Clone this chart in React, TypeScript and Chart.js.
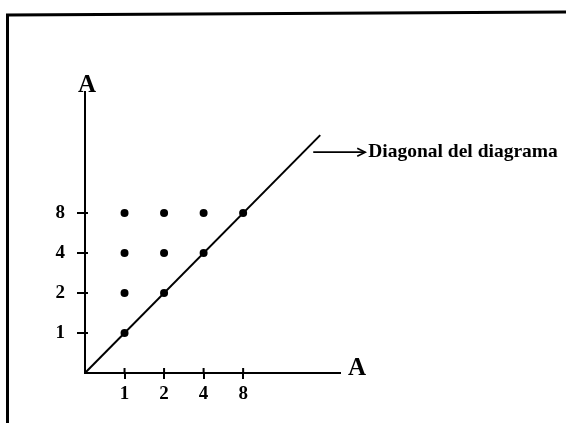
import React, { useEffect, useRef } from "react";
import { Chart, registerables } from "chart.js";

Chart.register(...registerables);

// Doubling steps marked on both axes
const axisValues = [1, 2, 4, 8];
const axisName = "A";
// Plotted pairs: each column value (x) with every row value (y) at or above it
const pointX = [1, 1, 1, 1, 2, 2, 2, 4, 4, 8];
const pointY = [1, 2, 4, 8, 2, 4, 8, 4, 8, 8];
// Diagonal runs from the origin up to this many steps
const diagonalEnd = 5.95;
const diagonalLabel = "Diagonal del diagrama";

const SERIF = "'Liberation Serif', 'DejaVu Serif', serif";
const step = (v: number) => axisValues.indexOf(v) + 1;

const decorPlugin = {
  id: "decor",
  afterDraw(chart: any) {
    const { ctx, chartArea, scales } = chart;
    const xs = scales.x;
    const ys = scales.y;
    ctx.save();
    ctx.strokeStyle = "#000";
    ctx.fillStyle = "#000";

    // page frame (top and left edges)
    ctx.lineWidth = 3;
    ctx.beginPath();
    ctx.moveTo(7.5, 423);
    ctx.lineTo(7.5, 15);
    ctx.lineTo(566, 12);
    ctx.stroke();

    // short inner halves of the tick marks
    ctx.lineWidth = 2;
    ctx.beginPath();
    axisValues.forEach((v) => {
      const px = xs.getPixelForValue(step(v));
      ctx.moveTo(px, chartArea.bottom);
      ctx.lineTo(px, chartArea.bottom - 5);
      const py = ys.getPixelForValue(step(v));
      ctx.moveTo(chartArea.left, py);
      ctx.lineTo(chartArea.left + 3, py);
    });
    ctx.stroke();

    // axis names
    ctx.font = `bold 25px ${SERIF}`;
    ctx.textBaseline = "alphabetic";
    ctx.textAlign = "center";
    ctx.fillText(axisName, chartArea.left + 2, chartArea.top);
    ctx.textAlign = "left";
    ctx.fillText(axisName, chartArea.right + 8, chartArea.bottom + 2);

    // pointer to the diagonal
    const ay = ys.getPixelForValue(diagonalEnd) + 17;
    const ax0 = xs.getPixelForValue(diagonalEnd) - 7;
    const ax1 = ax0 + 52;
    ctx.lineWidth = 1.6;
    ctx.beginPath();
    ctx.moveTo(ax0, ay);
    ctx.lineTo(ax1, ay);
    ctx.stroke();
    ctx.beginPath();
    ctx.moveTo(ax1 - 8, ay - 4);
    ctx.lineTo(ax1, ay);
    ctx.lineTo(ax1 - 8, ay + 4);
    ctx.stroke();

    ctx.font = `bold 19.5px ${SERIF}`;
    ctx.textBaseline = "middle";
    ctx.textAlign = "left";
    ctx.fillText(diagonalLabel, ax1 + 3, ay);
    ctx.restore();
  },
};

export default function App() {
  const canvasRef = useRef<HTMLCanvasElement | null>(null);

  useEffect(() => {
    document.body.style.margin = "0";
    const canvas = canvasRef.current;
    if (!canvas) return;

    const axisScale = (max: number, isY: boolean) => ({
      type: "linear" as const,
      min: 0,
      max,
      afterBuildTicks: (s: any) => {
        s.ticks = axisValues.map((v) => ({ value: step(v) }));
      },
      afterFit: (s: any) => {
        if (isY) s.width = 77;
        else s.height = 30;
      },
      ticks: {
        color: "#000",
        padding: isY ? 12 : 4,
        font: { family: SERIF, size: 19, weight: "bold" as const },
        callback: (_v: any, i: number) => String(axisValues[i]),
      },
      grid: {
        display: true,
        drawOnChartArea: false,
        drawTicks: true,
        tickLength: isY ? 8 : 6,
        color: "#000",
        lineWidth: 2,
      },
      border: { display: true, color: "#000", width: 2 },
    });

    const chart = new Chart(canvas, {
      type: "scatter",
      data: {
        datasets: [
          {
            type: "line",
            data: [
              { x: 0, y: 0 },
              { x: diagonalEnd, y: diagonalEnd },
            ],
            borderColor: "#000",
            borderWidth: 2,
            pointRadius: 0,
            fill: false,
          },
          {
            data: pointX.map((x, i) => ({ x: step(x), y: step(pointY[i]) })),
            backgroundColor: "#000",
            borderColor: "#000",
            borderWidth: 0,
            pointRadius: 4,
          },
        ],
      },
      options: {
        animation: false,
        responsive: false,
        layout: { padding: { left: 8, right: 226, top: 92, bottom: 20 } },
        plugins: {
          legend: { display: false },
          tooltip: { enabled: false },
        },
        scales: {
          x: axisScale(6.45, false),
          y: axisScale(7.03, true),
        },
      },
      plugins: [decorPlugin],
    });

    return () => chart.destroy();
  }, []);

  return (
    <div style={{ position: "fixed", left: 0, top: 0, width: 566, height: 423, background: "#fff" }}>
      <canvas ref={canvasRef} width={566} height={423} />
    </div>
  );
}
